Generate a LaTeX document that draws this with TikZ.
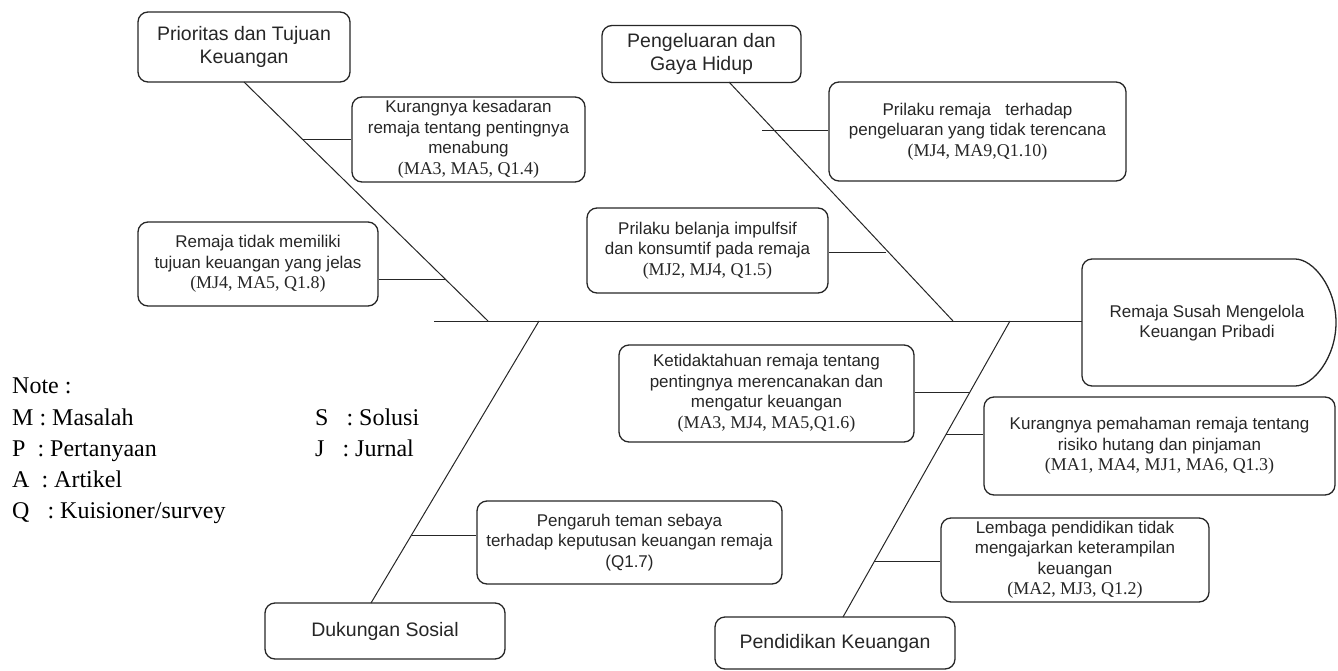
\documentclass[tikz,border=0pt]{standalone}
\usepackage{fontspec}
\setmainfont{Liberation Serif}
\setsansfont{Liberation Sans}
\begin{document}
\begin{tikzpicture}[x=1pt,y=-1pt,
  ink/.style={black!85},
  box/.style={draw=black!85, line width=1.3pt, rounded corners=10pt, align=center, inner sep=0pt, text=black!85},
  hdr/.style={box, font=\sffamily\fontsize{19.5}{23}\selectfont},
  cause/.style={box, font=\sffamily\fontsize{17}{20.5}\selectfont},
  bone/.style={draw=black!85, line width=1pt},
  notetxt/.style={anchor=base west, inner sep=0pt, font=\rmfamily\fontsize{24}{28}\selectfont, text=black}
]
\newcommand\cit[1]{{\rmfamily\fontsize{18}{20.5}\selectfont #1}}
\useasboundingbox (0,0) rectangle (1338,671);

% category boxes
\node[hdr, minimum width=212pt, minimum height=70pt] (prio) at (244,47) {Prioritas dan Tujuan\\Keuangan};
\node[hdr, minimum width=199pt, minimum height=57pt] (peng) at (701.5,54) {Pengeluaran dan\\Gaya Hidup};
\node[hdr, minimum width=240pt, minimum height=56pt] (duk) at (385,631) {Dukungan Sosial};
\node[hdr, minimum width=240pt, minimum height=52pt] (pend) at (835,643) {Pendidikan Keuangan};

% cause boxes
\node[cause, minimum width=233pt, minimum height=85pt] (kes) at (468.5,139.5) {Kurangnya kesadaran\\remaja tentang pentingnya\\menabung\\\cit{(MA3, MA5, Q1.4)}};
\node[cause, minimum width=297pt, minimum height=99pt] (prm) at (977.5,131.5) {Prilaku remaja\ \ \ terhadap\\pengeluaran yang tidak terencana\\\cit{(MJ4, MA9,Q1.10)}};
\node[cause, minimum width=240pt, minimum height=84pt] (rt) at (258,264) {Remaja tidak memiliki\\tujuan keuangan yang jelas\\\cit{(MJ4, MA5, Q1.8)}};
\node[cause, minimum width=241pt, minimum height=85pt] (pb) at (707.5,250.5) {Prilaku belanja impulfsif\\dan konsumtif pada remaja\\\cit{(MJ2, MJ4, Q1.5)}};
\node[cause, minimum width=295pt, minimum height=97pt] (kt) at (766.5,393.5) {Ketidaktahuan remaja tentang\\pentingnya merencanakan dan\\mengatur keuangan\\\cit{(MA3, MJ4, MA5,Q1.6)}};
\node[cause, minimum width=351pt, minimum height=98pt] (pm) at (1159.5,446) {Kurangnya pemahaman remaja tentang\\risiko hutang dan pinjaman\\\cit{(MA1, MA4, MJ1, MA6, Q1.3)}};
\node[cause, minimum width=305pt, minimum height=83pt] (pt) at (629.5,542.5) {Pengaruh teman sebaya\\terhadap keputusan keuangan remaja\\(Q1.7)};
\node[cause, minimum width=268pt, minimum height=84pt] (lb) at (1075,560) {Lembaga pendidikan tidak\\mengajarkan keterampilan\\keuangan\\\cit{(MA2, MJ3, Q1.2)}};

% head
\draw[draw=black!85, line width=1.3pt, rounded corners=10pt]
  (1285,259) arc[start angle=-90, end angle=90, x radius=51, y radius=63.5]
  -- (1082,386) -- (1082,259) -- cycle;
\node[align=center, inner sep=0pt, text=black!85, font=\sffamily\fontsize{17}{20.5}\selectfont] (head) at (1207,323) {Remaja Susah Mengelola\\Keuangan Pribadi};

% spine
\coordinate (spL) at (434,321);
\coordinate (spR) at (1082,321);
\draw[bone] (spL) -- (spR);

% bone points on spine / boxes
\coordinate (b1top) at (244,82);   \coordinate (b1bot) at (488,321);
\coordinate (b2top) at (729,82);   \coordinate (b2bot) at (953,321);
\coordinate (b3bot) at (371,603);  \coordinate (b3top) at (539,321);
\coordinate (b4bot) at (843,617);  \coordinate (b4top) at (1010,321);
\draw[bone] (b1top) -- (b1bot);
\draw[bone] (b2top) -- (b2bot);
\draw[bone] (b3bot) -- (b3top);
\draw[bone] (b4bot) -- (b4top);

% branch points
\coordinate (c1) at (303,140);
\coordinate (c2) at (445,279);
\coordinate (c3) at (762,131);
\coordinate (c4) at (886,252);
\coordinate (c5) at (412,535);
\coordinate (c6) at (970,392);
\coordinate (c7) at (946,434);
\coordinate (c8) at (875,561);

\draw[bone] (c1) -- (c1 -| kes.west);
\draw[bone] (c2) -- (c2 -| rt.east);
\draw[bone] (c3) -- (c3 -| prm.west);
\draw[bone] (c4) -- (c4 -| pb.east);
\draw[bone] (c5) -- (c5 -| pt.west);
\draw[bone] (c6) -- (c6 -| kt.east);
\draw[bone] (c7) -- (c7 -| pm.west);
\draw[bone] (c8) -- (c8 -| lb.west);

% note
\node[notetxt] (nt) at (12,393) {Note :};
\node[notetxt] (nm) at (12,425) {M : Masalah};
\node[notetxt] (np) at (12,456) {P\ \ : Pertanyaan};
\node[notetxt] (na) at (12,487) {A\ \ : Artikel};
\node[notetxt] (nq) at (12,518) {Q\ \ \ : Kuisioner/survey};
\node[notetxt] (ns) at (315,425) {S\ \ \ : Solusi};
\node[notetxt] (nj) at (315,456) {J\ \ \ : Jurnal};
\end{tikzpicture}
\end{document}
